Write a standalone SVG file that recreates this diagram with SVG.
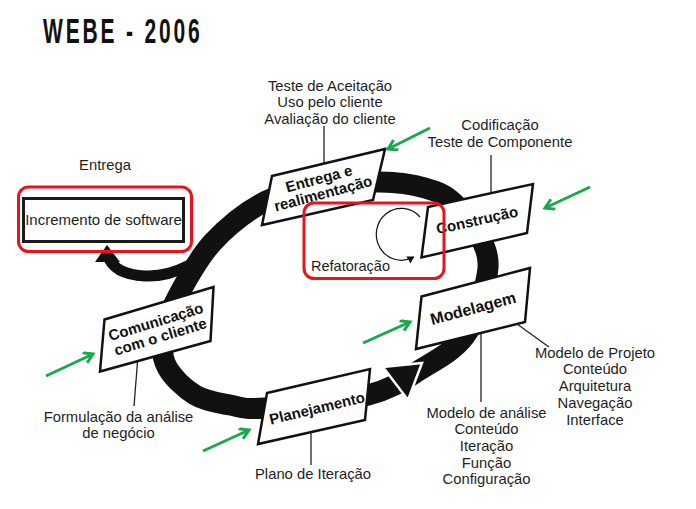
<svg xmlns="http://www.w3.org/2000/svg" width="696" height="509" viewBox="0 0 696 509">
<style>
.lbl{font-family:"Liberation Sans",Arial,sans-serif;font-size:14.8px;fill:#1e1e1e;text-anchor:middle}
.bx{fill:#fff;stroke:#111;stroke-width:2.5;stroke-linejoin:miter}
.bt{font-family:"Liberation Sans",Arial,sans-serif;font-size:15px;font-weight:bold;fill:#111;text-anchor:middle}
.ln{stroke:#222;stroke-width:1.3;fill:none}
.red{fill:none;stroke:#e8141b;stroke-width:3}
.grn{stroke:#19a84a;stroke-width:3;fill:none;marker-end:url(#ga)}
</style>
<defs>
<marker id="ga" markerWidth="14" markerHeight="14" refX="10" refY="6" orient="auto" markerUnits="userSpaceOnUse">
<path d="M1,0.5 L10,6 L1,11.5" fill="none" stroke="#19a84a" stroke-width="3"/>
</marker>
<marker id="ka" markerWidth="10" markerHeight="10" refX="6" refY="4" orient="auto" markerUnits="userSpaceOnUse">
<path d="M0,0 L7,4 L0,8 Z" fill="#111"/>
</marker>
</defs>
<rect width="696" height="509" fill="#fff"/>
<g transform="translate(43,43) scale(0.6,1)">
<text x="0" y="0" font-family="'Liberation Sans',Arial,sans-serif" font-size="35" font-weight="bold" fill="#111" textLength="261" lengthAdjust="spacing">WEBE - 2006</text>
</g>

<g id="connectors">
<path id="loop" fill="none" stroke="#111" stroke-width="21" d="M265,408 C288,406.3 341.7,401.7 368,395 C394.3,388.3 406.8,377.8 423,368 C439.2,358.2 454.7,349.8 465,336 C475.3,322.2 481.7,299.7 485,285 C488.3,270.3 490,261.5 485,248 C480,234.5 465,214 455,204 C445,194 437.5,191.7 425,188 C412.5,184.3 397.5,182.2 380,182 C362.5,181.8 339,183.8 320,187 C301,190.2 283.8,191.8 266,201 C248.2,210.2 227.7,226.2 213,242 C198.3,257.8 186.3,280.5 178,296 C169.7,311.5 164.8,323.2 163,335 C161.2,346.8 161.7,357 167,367 C172.3,377 184.5,388.7 195,395 C205.5,401.3 218.3,402.8 230,405 C241.7,407.2 242,409.7 265,408 Z"/>
<path id="arm" fill="none" stroke="#111" stroke-width="11" d="M108,256 C112,268 125,275 145,276 C162,277 176,272 190,265"/>
<polygon points="107,245 95,262 120,262" fill="#111"/>
<polygon points="383,367 422,363 408,400" fill="#111" stroke="#fff" stroke-width="2.5" stroke-linejoin="miter"/>
<line class="ln" x1="324" y1="126" x2="324" y2="164"/>
<line class="ln" x1="491" y1="155" x2="491" y2="194"/>
<line class="ln" x1="137.5" y1="362" x2="134" y2="406"/>
<line class="ln" x1="311" y1="432" x2="311" y2="465"/>
<line class="ln" x1="481" y1="333" x2="481" y2="402"/>
<line class="ln" x1="517" y1="324" x2="549" y2="347"/>
</g>

<g id="entrega">
<polygon class="bx" points="272,176 385,149 373,200 262,225"/>
<g transform="translate(321,186) rotate(-15)">
<text class="bt" x="0" y="-2.5">Entrega e</text>
<text class="bt" x="0" y="13">realimentação</text>
</g>
</g>
<g id="construcao">
<polygon class="bx" points="428,207 533,184 527,233 421.5,257.5"/>
<text class="bt" transform="translate(477,220) rotate(-12.5)" x="0" y="5.4">Construção</text>
</g>
<g id="modelagem">
<polygon class="bx" points="421.5,296.5 530,268 525,322 416,349"/>
<text class="bt" style="font-size:16px" transform="translate(473,308) rotate(-15)" x="0" y="5.8">Modelagem</text>
</g>
<g id="planejamento">
<polygon class="bx" points="267,393 370,369 365,420 258,444"/>
<text class="bt" transform="translate(317,408) rotate(-13.5)" x="0" y="5.4">Planejamento</text>
</g>
<g id="comunicacao">
<polygon class="bx" points="104.5,319.5 213.5,287 210.5,341 100,371.5"/>
<g transform="translate(158,329) rotate(-17)">
<text class="bt" x="0" y="-2.4">Comunicação</text>
<text class="bt" x="0" y="13.2">com o cliente</text>
</g>
</g>
<g id="incremento">
<text class="lbl" x="105" y="170">Entrega</text>
<rect x="23.5" y="198.5" width="160" height="43" fill="#fff" stroke="#1a1a1a" stroke-width="3"/>
<text class="lbl" x="103.5" y="224.5" style="font-size:15px">Incremento de software</text>
<rect class="red" x="18.5" y="187" width="173" height="64.5" rx="10"/>
</g>
<g id="refatoracao">
<rect class="red" x="304" y="203" width="140" height="75.5" rx="10"/>
<path d="M420,217 A25 26 0 1 0 413.5,257" fill="none" stroke="#111" stroke-width="1.2" marker-end="url(#ka)"/>
<text class="lbl" x="350.5" y="270.5" style="font-size:14.5px">Refatoração</text>
</g>

<g id="labels">
<text class="lbl" x="330" y="90.5">Teste de Aceitação</text>
<text class="lbl" x="330" y="107.3">Uso pelo cliente</text>
<text class="lbl" x="330" y="124">Avaliação do cliente</text>
<text class="lbl" x="500" y="129.5">Codificação</text>
<text class="lbl" x="500" y="146.5">Teste de Componente</text>
<text class="lbl" x="118.5" y="421.5">Formulação da análise</text>
<text class="lbl" x="118.5" y="437.5">de negócio</text>
<text class="lbl" x="313" y="478.5">Plano de Iteração</text>
<text class="lbl" x="486.5" y="417.8">Modelo de análise</text>
<text class="lbl" x="486.5" y="434.4">Conteúdo</text>
<text class="lbl" x="486.5" y="451">Iteração</text>
<text class="lbl" x="486.5" y="467.7">Função</text>
<text class="lbl" x="486.5" y="484.3">Configuração</text>
<text class="lbl" x="595" y="357.7">Modelo de Projeto</text>
<text class="lbl" x="595" y="374.3">Conteúdo</text>
<text class="lbl" x="595" y="391">Arquitetura</text>
<text class="lbl" x="595" y="408">Navegação</text>
<text class="lbl" x="595" y="424.8">Interface</text>
</g>

<g id="green-arrows">
<line class="grn" x1="430" y1="128" x2="388" y2="149"/>
<line class="grn" x1="590" y1="187" x2="545" y2="208"/>
<line class="grn" x1="363" y1="343" x2="410" y2="322"/>
<line class="grn" x1="46" y1="376" x2="93" y2="354"/>
<line class="grn" x1="203" y1="451" x2="249" y2="430"/>
</g>
</svg>
